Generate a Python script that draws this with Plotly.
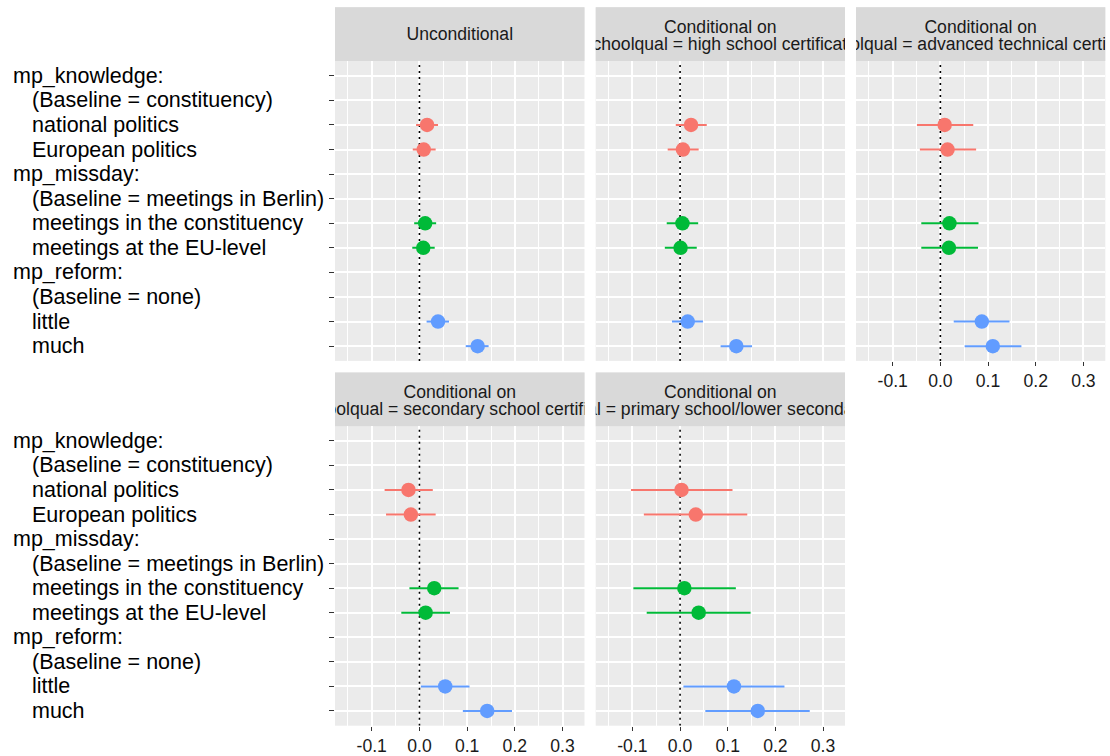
import plotly.graph_objects as go

W, H = 1110, 756

# ---------------- data ----------------
terms = ["mp_knowledge:", "(Baseline = constituency)", "national politics", "European politics",
         "mp_missday:", "(Baseline = meetings in Berlin)", "meetings in the constituency",
         "meetings at the EU-level", "mp_reform:", "(Baseline = none)", "little", "much"]
header_terms = ["mp_knowledge:", "mp_missday:", "mp_reform:"]

est_terms = ["national politics", "European politics", "meetings in the constituency",
             "meetings at the EU-level", "little", "much"]
est_groups = ["mp_knowledge", "mp_knowledge", "mp_missday", "mp_missday", "mp_reform", "mp_reform"]
groups = ["mp_knowledge", "mp_missday", "mp_reform"]
group_colors = ["#F8766D", "#00BA38", "#619CFF"]

panel_titles = [
    "Unconditional",
    "Conditional on\nschoolqual = high school certificate",
    "Conditional on\nschoolqual = advanced technical certificate",
    "Conditional on\nschoolqual = secondary school certificate",
    "Conditional on\nschoolqual = primary school/lower secondary school",
]

est_unconditional = [0.016, 0.009, 0.012, 0.008, 0.039, 0.122]
lo_unconditional = [-0.007, -0.014, -0.011, -0.015, 0.015, 0.097]
hi_unconditional = [0.039, 0.034, 0.035, 0.032, 0.062, 0.145]

est_highschool = [0.023, 0.006, 0.005, 0.001, 0.016, 0.118]
lo_highschool = [-0.009, -0.026, -0.028, -0.032, -0.017, 0.085]
hi_highschool = [0.056, 0.039, 0.038, 0.035, 0.048, 0.151]

est_advtech = [0.009, 0.015, 0.019, 0.018, 0.087, 0.110]
lo_advtech = [-0.049, -0.043, -0.040, -0.040, 0.028, 0.051]
hi_advtech = [0.069, 0.075, 0.080, 0.079, 0.145, 0.170]

est_secondary = [-0.023, -0.018, 0.031, 0.013, 0.054, 0.142]
lo_secondary = [-0.073, -0.070, -0.021, -0.038, 0.003, 0.091]
hi_secondary = [0.028, 0.034, 0.082, 0.064, 0.105, 0.194]

est_primary = [0.003, 0.033, 0.009, 0.039, 0.113, 0.163]
lo_primary = [-0.103, -0.076, -0.098, -0.070, 0.007, 0.053]
hi_primary = [0.110, 0.141, 0.117, 0.148, 0.219, 0.272]

x_tickvals = [-0.1, 0.0, 0.1, 0.2, 0.3]
x_ticktext = ["-0.1", "0.0", "0.1", "0.2", "0.3"]
reference_value = 0.0

panels = [
    (est_unconditional, lo_unconditional, hi_unconditional),
    (est_highschool, lo_highschool, hi_highschool),
    (est_advtech, lo_advtech, hi_advtech),
    (est_secondary, lo_secondary, hi_secondary),
    (est_primary, lo_primary, hi_primary),
]

# ---------------- layout geometry (pixels) ----------------
FONT = "Liberation Sans, Arial, Helvetica, sans-serif"
cols_px = [(335.0, 584.5), (595.7, 845.0), (856.0, 1105.3)]
rows_px = [  # (strip_top, strip_bottom=plot_top, plot_bottom)
    (7.3, 61.5, 363.3),
    (375.0, 429.0, 730.5),
]
positions = [(0, 0), (0, 1), (0, 2), (1, 0), (1, 1)]
xrange_ = [-0.177, 0.346]
yrange_ = [len(terms) - 1 + 0.6, -0.6]


def fx(px):
    return px / W


def fy(px):
    return 1 - px / H


def sfx(n):
    return "" if n == 1 else str(n)


term_index = {t: i for i, t in enumerate(terms)}

fig = go.Figure()
layout = dict(
    width=W, height=H,
    margin=dict(l=0, r=0, t=0, b=0),
    paper_bgcolor="white",
    plot_bgcolor="#EBEBEB",
    showlegend=False,
    font=dict(family=FONT, color="black"),
)
shapes = []
annotations = []

for p, (r, c) in enumerate(positions):
    n = sfx(p + 1)
    sn = sfx(p + 6)
    x0, x1 = cols_px[c]
    st, pt, pb = rows_px[r]
    show_xlab = (p >= 2)
    left_col = (c == 0)

    layout[f"xaxis{n}"] = dict(
        domain=[fx(x0), fx(x1)], anchor=f"y{n}", range=xrange_,
        tickmode="array", tickvals=x_tickvals, ticktext=x_ticktext,
        showticklabels=show_xlab, ticks="outside" if show_xlab else "",
        ticklen=4, tickwidth=1, tickcolor="#333333",
        tickfont=dict(size=17.6, color="#1A1A1A", family=FONT),
        showgrid=True, gridcolor="white", gridwidth=1.6,
        minor=dict(dtick=0.05, tick0=0.0, showgrid=True, gridcolor="white",
                   gridwidth=0.8, ticks=""),
        zeroline=False, showline=False, fixedrange=True,
    )
    layout[f"yaxis{n}"] = dict(
        domain=[fy(pb), fy(pt)], anchor=f"x{n}", range=yrange_,
        tickmode="array", tickvals=list(range(len(terms))),
        showticklabels=False, ticks="outside" if left_col else "",
        ticklen=5, tickwidth=1, tickcolor="#333333",
        showgrid=True, gridcolor="white", gridwidth=1.6,
        zeroline=False, showline=False, fixedrange=True,
    )
    # strip axes
    layout[f"xaxis{sn}"] = dict(domain=[fx(x0), fx(x1)], anchor=f"y{sn}", range=[0, 1],
                                visible=False, fixedrange=True)
    layout[f"yaxis{sn}"] = dict(domain=[fy(pt), fy(st)], anchor=f"x{sn}", range=[0, 1],
                                visible=False, fixedrange=True)
    shapes.append(dict(type="rect", xref=f"x{sn} domain", yref=f"y{sn} domain",
                       x0=0, x1=1, y0=0, y1=1, fillcolor="#D9D9D9", line=dict(width=0),
                       layer="below"))
    lines = panel_titles[p].split("\n")
    if len(lines) == 1:
        ys = [0.465]
    else:
        ys = [0.605, 0.29]
    for txt, yy in zip(lines, ys):
        fig.add_trace(go.Scatter(
            x=[0.5], y=[yy], mode="text", text=[txt], textposition="middle center",
            textfont=dict(size=17.6, color="#1A1A1A", family=FONT),
            cliponaxis=True, hoverinfo="skip", showlegend=False,
            xaxis=f"x{sn}", yaxis=f"y{sn}",
        ))

    # zero reference line (drawn beneath the points)
    fig.add_trace(go.Scatter(
        x=[reference_value, reference_value], y=yrange_, mode="lines",
        line=dict(color="black", width=1.6, dash="2px,4px"),
        xaxis=f"x{n}", yaxis=f"y{n}", showlegend=False, hoverinfo="skip",
    ))

    est, lo, hi = panels[p]
    for g, col in zip(groups, group_colors):
        idx = [i for i, gg in enumerate(est_groups) if gg == g]
        xs = [est[i] for i in idx]
        ys_ = [term_index[est_terms[i]] for i in idx]
        plus = [hi[i] - est[i] for i in idx]
        minus = [est[i] - lo[i] for i in idx]
        fig.add_trace(go.Scatter(
            x=xs, y=ys_, mode="markers",
            marker=dict(color=col, size=14.5, line=dict(width=0)),
            error_x=dict(type="data", array=plus, arrayminus=minus, symmetric=False,
                         color=col, thickness=2, width=0),
            xaxis=f"x{n}", yaxis=f"y{n}", showlegend=False, hoverinfo="skip",
        ))

# y-axis category labels (left-aligned, as in the original)
for r in range(2):
    yref = "y" if r == 0 else "y4"
    for t in terms:
        indent = t not in header_terms
        annotations.append(dict(
            xref="paper", yref=yref, x=fx(30.0 if indent else 10.5), y=term_index[t],
            text=t, showarrow=False, xanchor="left", yanchor="middle",
            font=dict(size=21.5, color="black", family=FONT),
        ))

layout["shapes"] = shapes
layout["annotations"] = annotations
fig.update_layout(**layout)
fig.write_html("out.html",
               config={"displayModeBar": False},
               post_script="document.body.style.margin='0';document.body.style.overflow='hidden';")
